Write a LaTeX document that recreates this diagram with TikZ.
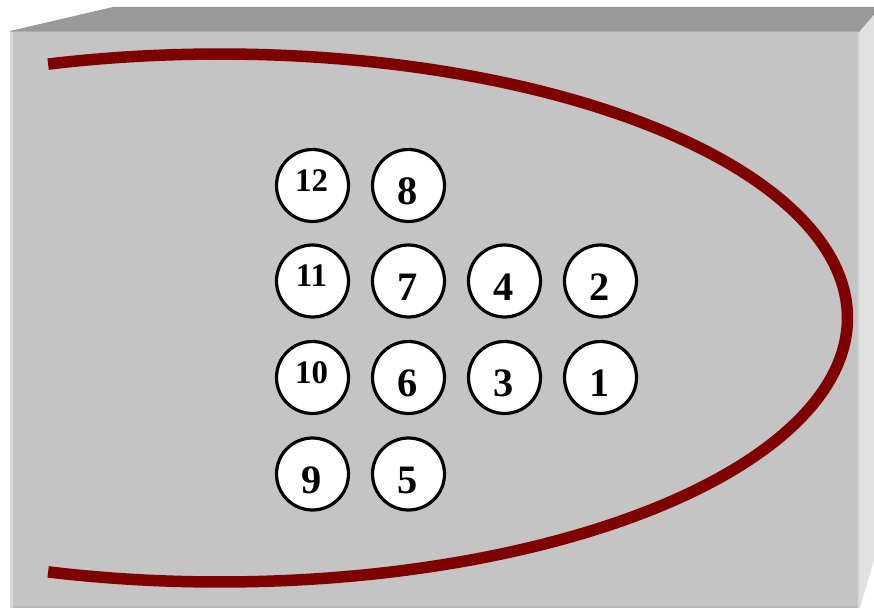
\documentclass[tikz,border=0pt]{standalone}
\usepackage{fontspec}
\setmainfont{Liberation Serif}
\definecolor{topgray}{HTML}{999999}
\definecolor{sidegray}{HTML}{E1E1E1}
\definecolor{frontgray}{HTML}{C4C4C4}
\definecolor{edgelight}{HTML}{D8D8D8}
\definecolor{edgedark}{HTML}{B8B8B8}
\definecolor{topedge}{HTML}{ABABAB}
\definecolor{curvered}{HTML}{7F0000}
\begin{document}
\begin{tikzpicture}[x=1bp,y=-1bp,
  ball/.style={circle,draw=black,fill=white,line width=3.2bp,minimum size=72bp,inner sep=0pt},
  bignum/.style={font=\fontsize{40.5}{41}\selectfont\bfseries,inner sep=0pt},
  smallnum/.style={font=\fontsize{33}{34}\selectfont\bfseries,inner sep=0pt}]
\useasboundingbox (0,0) rectangle (874,608);
\fill[white] (0,0) rectangle (874,608);
% box faces
\fill[topgray] (10,31) -- (113,7) -- (874,7) -- (874,15) -- (860,31) -- cycle;
\fill[sidegray] (860,31) -- (874,15) -- (874,560) -- (860,608) -- cycle;
\fill[frontgray] (10,31) rectangle (860,608);
\fill[edgelight] (10,31) rectangle (12.5,608);
\fill[edgelight] (857.5,31) rectangle (860,608);
\fill[edgedark] (12.5,605.5) rectangle (857.5,608);
\fill[topedge] (10,31) rectangle (860,32.5);
% curve
\draw[curvered, line width=11.5bp] plot[domain=-105.9:105.9, samples=150, smooth]
  ({220+627.5*cos(\x)},{318+264*sin(\x)});
% circles
\node[ball] (c12) at (312.5,185.5) {};
\node[ball] (c8)  at (408.5,185.5) {};
\node[ball] (c11) at (312.5,281) {};
\node[ball] (c7)  at (408.5,281) {};
\node[ball] (c4)  at (504.5,281) {};
\node[ball] (c2)  at (600.5,281) {};
\node[ball] (c10) at (312.5,377.5) {};
\node[ball] (c6)  at (408.5,377.5) {};
\node[ball] (c3)  at (504.5,377.5) {};
\node[ball] (c1)  at (600.5,377.5) {};
\node[ball] (c9)  at (312.5,474) {};
\node[ball] (c5)  at (408.5,474) {};
% numbers
\node[smallnum] (t12) at ([xshift=-1bp,yshift=5bp]c12) {12};
\node[bignum] (t8) at ([xshift=-0.5bp,yshift=-6bp]c8) {8};
\node[smallnum] (t11) at ([xshift=-1bp,yshift=5bp]c11) {11};
\node[bignum] (t7) at ([xshift=-0.5bp,yshift=-6bp]c7) {7};
\node[bignum] (t4) at ([xshift=-0.5bp,yshift=-6bp]c4) {4};
\node[bignum] (t2) at ([xshift=-0.5bp,yshift=-6bp]c2) {2};
\node[smallnum] (t10) at ([xshift=-1bp,yshift=5bp]c10) {10};
\node[bignum] (t6) at ([xshift=-0.5bp,yshift=-6bp]c6) {6};
\node[bignum] (t3) at ([xshift=-0.5bp,yshift=-6bp]c3) {3};
\node[bignum] (t1) at ([xshift=-0.5bp,yshift=-6bp]c1) {1};
\node[bignum] (t9) at ([xshift=-0.5bp,yshift=-6bp]c9) {9};
\node[bignum] (t5) at ([xshift=-0.5bp,yshift=-6bp]c5) {5};
\end{tikzpicture}
\end{document}
